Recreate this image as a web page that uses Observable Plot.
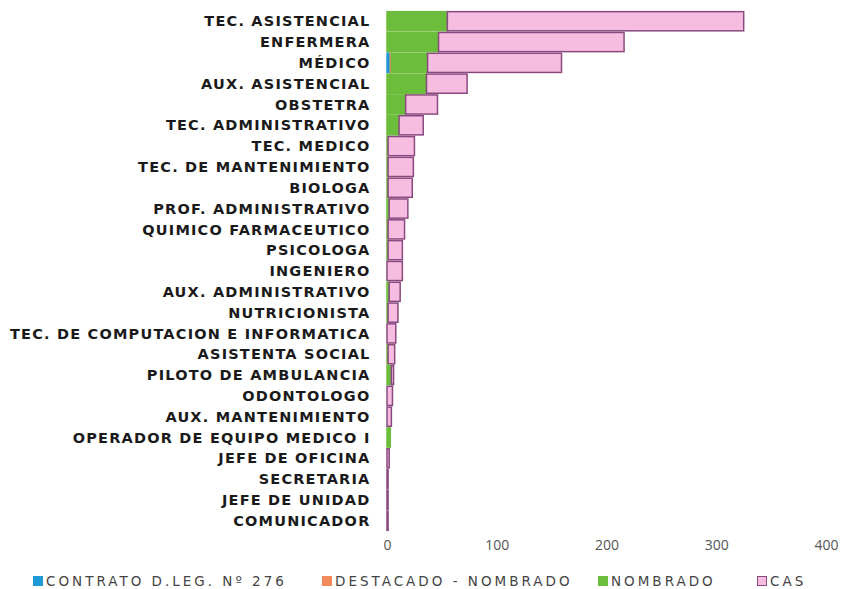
<!DOCTYPE html>
<html><head><meta charset="utf-8">
<script src="https://cdn.jsdelivr.net/npm/d3@7"></script>
<script src="https://cdn.jsdelivr.net/npm/@observablehq/plot@0.6"></script>
<style>
body{margin:0;background:#fff;}
#wrap{position:relative;width:843px;height:589px;}
#legend{position:absolute;top:572px;left:0;width:843px;height:18px;font-family:"DejaVu Sans",sans-serif;font-weight:normal;font-size:13.5px;color:#444;}
.li{position:absolute;display:flex;align-items:center;white-space:nowrap;letter-spacing:3px;line-height:18px;}
.sw{width:10px;height:10px;margin-right:3px;box-sizing:border-box;}
</style></head>
<body><div id="wrap"><div id="chart"></div><div id="legend"></div></div>
<script>
const categories = ["TEC. ASISTENCIAL","ENFERMERA","MÉDICO","AUX. ASISTENCIAL","OBSTETRA","TEC. ADMINISTRATIVO","TEC. MEDICO","TEC. DE MANTENIMIENTO","BIOLOGA","PROF. ADMINISTRATIVO","QUIMICO FARMACEUTICO","PSICOLOGA","INGENIERO","AUX. ADMINISTRATIVO","NUTRICIONISTA","TEC. DE COMPUTACION E INFORMATICA","ASISTENTA SOCIAL","PILOTO DE AMBULANCIA","ODONTOLOGO","AUX. MANTENIMIENTO","OPERADOR DE EQUIPO MEDICO I","JEFE DE OFICINA","SECRETARIA","JEFE DE UNIDAD","COMUNICADOR"];
const contrato  = [0,0,3,0,0,0,0,0,0,0,0,0,0,0,0,0,0,0,0,0,0,0,0,0,0];
const destacado = [0,0,1,0,0,0,0,0,0,0,0,0,0,0,0,0,0,0,0,0,0,0,0,0,0];
const nombrado  = [55,47,33,36,17,11,1,1,1,2,1,1,0,2,1,0,1,4,0,0,3,0,0,0,0];
const cas       = [270,169,122,37,29,22,24,23,22,17,15,13,14,10,9,8,6,2,5,4,0,2,1,1,1];
const seriesNames = ["CONTRATO D.LEG. Nº 276","DESTACADO - NOMBRADO","NOMBRADO","CAS"];
const seriesValues = [contrato, destacado, nombrado, cas];
const seriesColors = ["#1f9ad6","#f28a5c","#6cbd3c","#f6bde0"];
const seriesStrokes = ["#1f9ad6","#f28a5c","#6cbd3c","#8a4a80"];
const xTicks = [0,100,200,300,400];

const rows = [];
categories.forEach((c,i)=>{
  let acc = 0;
  seriesValues.forEach((vals,s)=>{
    const v = vals[i];
    if (v>0) rows.push({cat:c, series:seriesNames[s], x1:acc, x2:acc+v, fill:seriesColors[s], stroke:seriesStrokes[s]});
    acc += v;
  });
});

const chart = Plot.plot({
  width:843, height:560,
  marginLeft:387, marginRight:17, marginTop:10, marginBottom:28,
  style:{background:"#fff"},
  x:{domain:[0,400], ticks:xTicks, tickSize:0, label:null},
  y:{domain:categories, tickSize:0, label:null, padding:0.08, round:false},
  marks:[
    Plot.barX(rows,{y:"cat", x1:"x1", x2:"x2", fill:"fill", stroke:"stroke", strokeWidth:1.5}),
    Plot.axisY({tickSize:0, tickPadding:17, fontFamily:"DejaVu Sans", fontWeight:"bold", fontSize:14.5, fill:"#1a1a1a"}),
    Plot.axisX({ticks:xTicks, tickSize:0, tickPadding:8, fontFamily:"Open Sans", fontSize:14, fill:"#555"})
  ]
});
chart.querySelectorAll('g[aria-label="y-axis tick label"] text').forEach(t=>t.setAttribute("letter-spacing","1.2"));
document.getElementById("chart").appendChild(chart);

const legendLeft = [33,322,598,757];
const leg = document.getElementById("legend");
seriesNames.forEach((n,i)=>{
  const d = document.createElement("div"); d.className="li"; d.style.left=legendLeft[i]+"px";
  const s = document.createElement("span"); s.className="sw"; s.style.background=seriesColors[i];
  if (i===3) s.style.border="1.5px solid "+seriesStrokes[3];
  const t = document.createElement("span"); t.textContent=n;
  d.appendChild(s); d.appendChild(t); leg.appendChild(d);
});
</script></body></html>
